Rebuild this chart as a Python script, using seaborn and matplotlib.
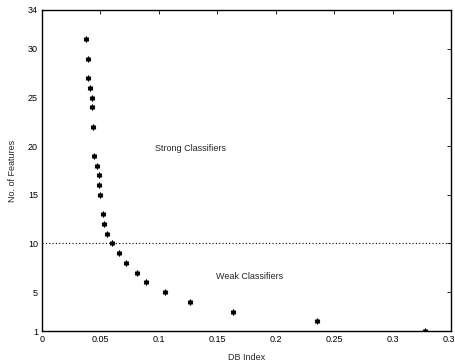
import matplotlib
matplotlib.use("Agg")
import matplotlib.pyplot as plt
import seaborn as sns
import pandas as pd

# DB index vs number of features
db_index = [0.0377, 0.0394, 0.0396, 0.0411, 0.0425, 0.0428, 0.0434, 0.0443, 0.0469,
            0.0488, 0.0488, 0.0499, 0.0524, 0.0530, 0.0557, 0.0602, 0.0659, 0.0723,
            0.0813, 0.0893, 0.1050, 0.1270, 0.1633, 0.2355, 0.3280]
n_features = [31, 29, 27, 26, 25, 24, 22, 19, 18, 17, 16, 15, 13, 12, 11, 10, 9, 8,
              7, 6, 5, 4, 3, 2, 1]
x_ticks = [0, 0.05, 0.1, 0.15, 0.2, 0.25, 0.3, 0.35]
x_tick_labels = ["0", "0.05", "0.1", "0.15", "0.2", "0.25", "0.3", "0.35"]
y_ticks = [1, 5, 10, 15, 20, 25, 30, 34]
threshold = 10

df = pd.DataFrame({"db": db_index, "nf": n_features})

sns.set_style("white")
plt.rcParams['font.family'] = ['Liberation Sans', 'DejaVu Sans']
plt.rcParams['font.size'] = 6.5

fig = plt.figure(figsize=(4.56, 3.62), dpi=100)
ax = fig.add_axes([0.0921, 0.0856, 0.8969, 0.8868])

sns.scatterplot(data=df, x="db", y="nf", ax=ax, marker=(6, 2, 0), s=10,
                color="black", edgecolor="black", linewidth=1.1)
ax.axhline(threshold, color="black", linestyle=(0, (1, 2)), linewidth=0.8)

ax.text(0.097, 19.8, "Strong Classifiers", fontsize=6.5, va="center")
ax.text(0.149, 6.65, "Weak Classifiers", fontsize=6.5, va="center")

ax.set_xlim(0, 0.35)
ax.set_ylim(1, 34)
ax.set_xticks(x_ticks)
ax.set_xticklabels(x_tick_labels)
ax.set_yticks(y_ticks)
ax.tick_params(direction="in", length=3, width=0.6, top=True, right=True,
               labelsize=6.5, pad=3, colors="black")
for s in ax.spines.values():
    s.set_linewidth(1.0)
    s.set_color("black")
ax.set_xlabel("DB Index", fontsize=6.5, labelpad=6)
ax.set_ylabel("No. of Features", fontsize=6.5, labelpad=8)

fig.savefig("out.png", dpi=100)
